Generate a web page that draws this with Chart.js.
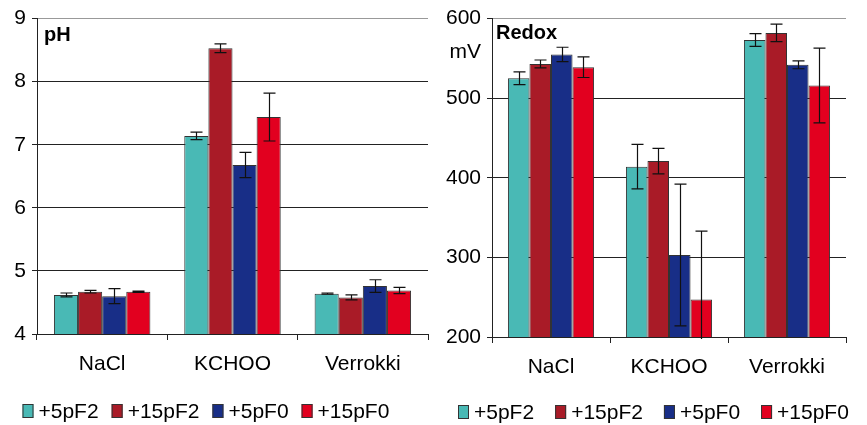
<!DOCTYPE html>
<html>
<head>
<meta charset="utf-8">
<script src="https://cdn.jsdelivr.net/npm/chart.js@4.4.0/dist/chart.umd.min.js"></script>
<style>
  body { margin: 0; background: #fff; }
  #wrap { display: flex; width: 867px; height: 425px; }
  canvas { display: block; }
</style>
</head>
<body>
<div id="wrap">
  <canvas id="phChart" width="430" height="425"></canvas>
  <canvas id="redoxChart" width="437" height="425"></canvas>
</div>
<script>
// kategoriat ja sarjat
const categories = ["NaCl", "KCHOO", "Verrokki"];
const seriesLabels = ["+5pF2", "+15pF2", "+5pF0", "+15pF0"];
const seriesColors = ["#49B9B5", "#A91B27", "#182E87", "#E2001F"];

// pH keskiarvot ja keskihajonnat (sarja kerrallaan)
const ph5pF2 = [4.62, 7.14, 4.64];
const ph15pF2 = [4.67, 8.53, 4.58];
const ph5pF0 = [4.60, 6.68, 4.76];
const ph15pF0 = [4.67, 7.44, 4.69];
const phErr5pF2 = [0.03, 0.06, 0.01];
const phErr15pF2 = [0.02, 0.07, 0.04];
const phErr5pF0 = [0.12, 0.20, 0.10];
const phErr15pF0 = [0.01, 0.38, 0.05];

// Redox (mV)
const rx5pF2 = [525, 414, 573];
const rx15pF2 = [543, 421, 582];
const rx5pF0 = [555, 303, 542];
const rx15pF0 = [539, 247, 516];
const rxErr5pF2 = [8, 28, 8];
const rxErr15pF2 = [5, 16, 11];
const rxErr5pF0 = [9, 89, 5];
const rxErr15pF0 = [13, 86, 47];

const FONT = "'Liberation Sans', Arial, sans-serif";

// virhepalkit
const errorBars = {
  id: "errorBars",
  afterDatasetsDraw(chart) {
    const ctx = chart.ctx;
    const y = chart.scales.y;
    const area = chart.chartArea;
    ctx.save();
    ctx.beginPath();
    ctx.rect(area.left, area.top - 2, area.right - area.left, area.bottom - area.top + 4);
    ctx.clip();
    ctx.strokeStyle = "#111";
    ctx.lineWidth = 1.2;
    chart.data.datasets.forEach((ds, i) => {
      const meta = chart.getDatasetMeta(i);
      meta.data.forEach((bar, j) => {
        const v = ds.data[j], e = ds.errors[j];
        const yTop = y.getPixelForValue(v + e);
        const yBot = y.getPixelForValue(v - e);
        const x = Math.round(bar.x) + 0.5;
        ctx.beginPath();
        ctx.moveTo(x, yTop); ctx.lineTo(x, yBot);
        ctx.moveTo(x - 6, yTop); ctx.lineTo(x + 6, yTop);
        if (v - e >= y.min) { ctx.moveTo(x - 6, yBot); ctx.lineTo(x + 6, yBot); }
        ctx.stroke();
      });
    });
    ctx.restore();
  }
};

// otsikot kuvaajan sisällä ja legenda alhaalla
const extras = {
  id: "extras",
  afterDraw(chart, args, opts) {
    const ctx = chart.ctx;
    const area = chart.chartArea;
    ctx.save();
    ctx.fillStyle = "#000";
    ctx.textBaseline = "alphabetic";
    ctx.textAlign = "left";
    ctx.font = "bold 20px " + FONT;
    ctx.fillText(opts.title, area.left + opts.titleDx, opts.titleY);
    if (opts.unit) {
      ctx.font = "21px " + FONT;
      ctx.textAlign = "right";
      ctx.fillText(opts.unit, area.left - 11, opts.unitY);
    }
    // legenda
    ctx.font = "21px " + FONT;
    ctx.textAlign = "left";
    ctx.textBaseline = "middle";
    let x = opts.legendX;
    chart.data.datasets.forEach((ds) => {
      ctx.fillStyle = ds.backgroundColor;
      ctx.fillRect(x, opts.legendY - 7, 11, 14);
      ctx.strokeStyle = "#333";
      ctx.lineWidth = 1;
      ctx.strokeRect(x + 0.5, opts.legendY - 6.5, 10, 13);
      ctx.fillStyle = "#000";
      ctx.fillText(ds.label, x + 16, opts.legendY + 1);
      x += 16 + ctx.measureText(ds.label).width + opts.legendGap;
    });
    ctx.restore();
  }
};

function makeChart(id, values, errors, yMin, yMax, cfg) {
  return new Chart(document.getElementById(id), {
    type: "bar",
    data: {
      labels: categories,
      datasets: seriesLabels.map((name, i) => ({
        label: name,
        data: values[i],
        errors: errors[i],
        backgroundColor: seriesColors[i],
        borderColor: "#333",
        borderWidth: 1,
        borderSkipped: "bottom",
        barPercentage: 1,
        categoryPercentage: cfg.catPct
      }))
    },
    options: {
      responsive: false,
      devicePixelRatio: 1,
      animation: false,
      layout: { autoPadding: false, padding: { top: 17, right: cfg.padRight, left: 0, bottom: 0 } },
      plugins: {
        legend: { display: false },
        tooltip: { enabled: false },
        extras: cfg.extras
      },
      scales: {
        x: {
          afterFit: (s) => { s.height = cfg.xHeight; },
          grid: {
            offset: true,
            color: (c) => (c.index === categories.length ? "#999" : "rgba(0,0,0,0)"),
            tickColor: "#222",
            tickLength: 6,
            lineWidth: 1
          },
          border: { color: "#222", width: 1 },
          ticks: { color: "#000", font: { family: FONT, size: 21 }, padding: 12 }
        },
        y: {
          min: yMin,
          max: yMax,
          afterFit: (s) => { s.width = cfg.yWidth; },
          grid: {
            color: (c) => (c.tick && c.tick.value === yMax ? "#999" : "#222"),
            tickColor: "#222",
            tickLength: 5,
            lineWidth: 1
          },
          border: { color: "#222", width: 1 },
          ticks: { stepSize: cfg.step, color: "#000", font: { family: FONT, size: 21 }, padding: 6 }
        }
      }
    },
    plugins: [errorBars, extras]
  });
}

makeChart("phChart",
  [ph5pF2, ph15pF2, ph5pF0, ph15pF0],
  [phErr5pF2, phErr15pF2, phErr5pF0, phErr15pF0],
  4, 9,
  {
    catPct: 0.74, padRight: 2, xHeight: 91, yWidth: 37, step: 1,
    extras: { title: "pH", titleDx: 7, titleY: 41, legendX: 22.5, legendY: 411, legendGap: 13 }
  });

makeChart("redoxChart",
  [rx5pF2, rx15pF2, rx5pF0, rx15pF0],
  [rxErr5pF2, rxErr15pF2, rxErr5pF0, rxErr15pF0],
  200, 600,
  {
    catPct: 0.73, padRight: 21, xHeight: 88, yWidth: 62, step: 100,
    extras: { title: "Redox", titleDx: 4, titleY: 39, unit: "mV", unitY: 58, legendX: 28, legendY: 412, legendGap: 21 }
  });
</script>
</body>
</html>
